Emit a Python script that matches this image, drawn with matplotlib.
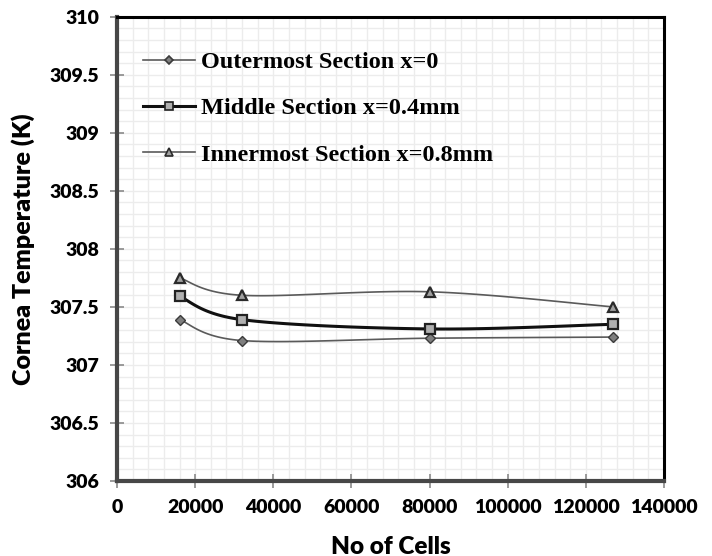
import numpy as np
import matplotlib
matplotlib.use("Agg")
import matplotlib.pyplot as plt
from matplotlib.ticker import MultipleLocator, FixedLocator
from matplotlib.lines import Line2D

# Mesh sizes and cornea temperatures (K) at three depths
cells = [16000, 32000, 80000, 127000]
outermost = [307.39, 307.21, 307.23, 307.24]
middle = [307.59, 307.39, 307.31, 307.35]
innermost = [307.75, 307.60, 307.63, 307.50]

series_labels = ["Outermost Section x=0",
                 "Middle Section x=0.4mm",
                 "Innermost Section x=0.8mm"]
x_ticks = [0, 20000, 40000, 60000, 80000, 100000, 120000, 140000]
y_ticks = [306, 306.5, 307, 307.5, 308, 308.5, 309, 309.5, 310]


def smooth_curve(xs, ys, n=40):
    """Catmull-Rom style Bezier smoothing through the given points."""
    xs = np.asarray(xs, float)
    ys = np.asarray(ys, float)
    px = np.concatenate([[xs[0]], xs, [xs[-1]]])
    py = np.concatenate([[ys[0]], ys, [ys[-1]]])
    out_x, out_y = [], []
    t = np.linspace(0, 1, n)
    for i in range(1, len(px) - 2):
        p0 = np.array([px[i], py[i]])
        p3 = np.array([px[i + 1], py[i + 1]])
        p1 = p0 + (np.array([px[i + 1], py[i + 1]]) - np.array([px[i - 1], py[i - 1]])) / 6
        p2 = p3 - (np.array([px[i + 2], py[i + 2]]) - np.array([px[i], py[i]])) / 6
        b = ((1 - t) ** 3)[:, None] * p0 + (3 * (1 - t) ** 2 * t)[:, None] * p1 \
            + (3 * (1 - t) * t ** 2)[:, None] * p2 + (t ** 3)[:, None] * p3
        out_x.extend(b[:, 0])
        out_y.extend(b[:, 1])
    return out_x, out_y


fig = plt.figure(figsize=(7.12, 5.56), dpi=100)
ax = fig.add_axes([117 / 712, 1 - 481 / 556, (664 - 117) / 712, (481 - 16.7) / 556])

styles = [
    dict(color="#5a5a5a", lw=1.2, marker="D", ms=5.5, mfc="#7f7f7f", mec="#3a3a3a", mew=1.0),
    dict(color="#111111", lw=2.2, marker="s", ms=7, mfc="#b0b0b0", mec="#222222", mew=1.6),
    dict(color="#5a5a5a", lw=1.2, marker="^", ms=7.5, mfc="#a0a0a0", mec="#2a2a2a", mew=1.6),
]

handles = []
for ys, st, lab in zip([outermost, middle, innermost], styles, series_labels):
    sx, sy = smooth_curve(cells, ys)
    ax.plot(sx, sy, color=st["color"], lw=st["lw"], zorder=3)
    ax.plot(cells, ys, ls="none", marker=st["marker"], ms=st["ms"], mfc=st["mfc"],
            mec=st["mec"], mew=st["mew"], zorder=4)
    handles.append(Line2D([], [], color=st["color"], lw=st["lw"], marker=st["marker"],
                          ms=st["ms"] * 0.8, mfc=st["mfc"], mec=st["mec"], mew=1.2,
                          label=lab))

ax.set_xlim(0, 140000)
ax.set_ylim(306, 310)
ax.xaxis.set_major_locator(FixedLocator(x_ticks))
ax.yaxis.set_major_locator(FixedLocator(y_ticks))
ax.xaxis.set_minor_locator(MultipleLocator(4000))
ax.yaxis.set_minor_locator(MultipleLocator(0.1))
ax.set_xticklabels([str(v) for v in x_ticks])
ax.set_yticklabels([("%g" % v) for v in y_ticks])

ax.grid(which="both", color="#ececec", lw=1.0, zorder=0)
ax.set_axisbelow(True)

for side in ["top", "right"]:
    ax.spines[side].set_color("#000000")
    ax.spines[side].set_linewidth(2.2)
for side in ["left", "bottom"]:
    ax.spines[side].set_color("#474747")
    ax.spines[side].set_linewidth(3)

ax.tick_params(which="major", direction="inout", length=10, width=1.2, color="#8a8a8a",
               labelsize=14, pad=8)
ax.tick_params(which="minor", length=0)
for lbl in ax.get_xticklabels() + ax.get_yticklabels():
    lbl.set_fontfamily("Lato")
    lbl.set_fontweight("heavy")

ax.set_xlabel("No of Cells", fontfamily="Lato", fontweight="heavy", fontsize=17.5, labelpad=14)
ax.set_ylabel("Cornea Temperature (K)", fontfamily="Lato", fontweight="heavy", fontsize=18,
              labelpad=10)

leg = ax.legend(handles=handles, loc="upper left", bbox_to_anchor=(0.0475, 0.926),
                frameon=False, borderpad=0, borderaxespad=0,
                handlelength=2.14, handletextpad=0.25, labelspacing=1.0,
                prop=dict(family="Liberation Serif", weight="bold", size=17.5))

fig.savefig("out.png", dpi=100, facecolor="white")
